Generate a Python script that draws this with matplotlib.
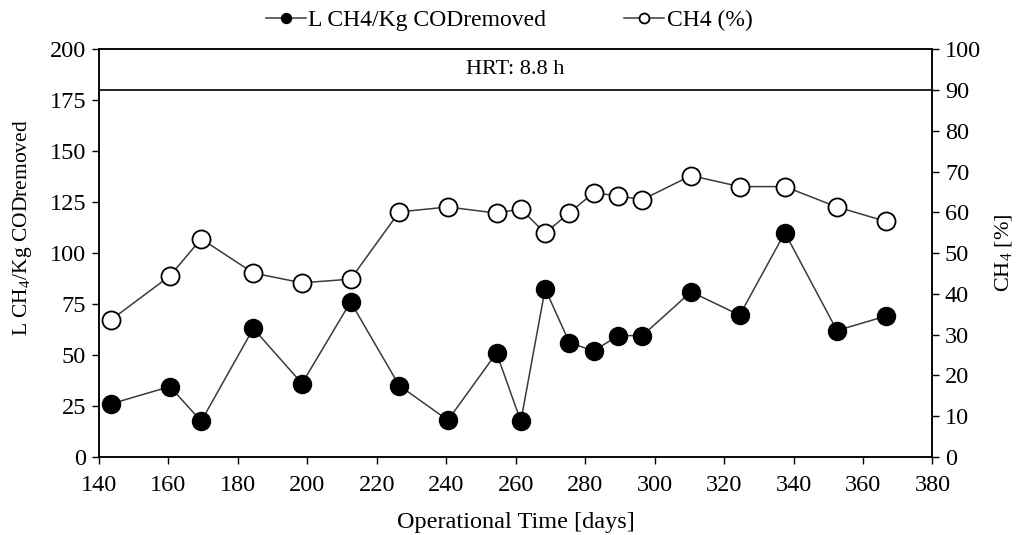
import matplotlib
matplotlib.use("Agg")
import matplotlib.pyplot as plt

# operational day of each sample
days = [143.5, 160.5, 169.5, 184.5, 198.5, 212.5, 226.5, 240.5, 254.5, 261.5,
        268.5, 275.5, 282.5, 289.5, 296.5, 310.5, 324.5, 337.5, 352.5, 366.5]
# methane yield, L CH4 / Kg COD removed (left axis)
yield_ch4 = [26, 34.5, 17.5, 63, 36, 76, 35, 18, 51, 17.5,
             82.5, 56, 52, 59.5, 59.5, 81, 69.5, 110, 62, 69]
# methane content of biogas, % (right axis)
ch4_pct = [33.6, 44.4, 53.5, 45.1, 42.7, 43.6, 60.1, 61.3, 59.8, 60.8,
           54.9, 59.9, 64.8, 64.0, 63.1, 69.0, 66.3, 66.3, 61.3, 57.8]

plt.rcParams['font.family'] = ['Liberation Serif', 'DejaVu Serif']
plt.rcParams['mathtext.fontset'] = 'custom'
plt.rcParams['mathtext.rm'] = 'Liberation Serif'
plt.rcParams['mathtext.it'] = 'Liberation Serif:italic'
plt.rcParams['font.size'] = 16

line_col = '#3a3a3a'

fig, ax = plt.subplots(figsize=(10.18, 5.35), dpi=100)
fig.subplots_adjust(left=0.097, right=0.916, top=0.908, bottom=0.146)
ax2 = ax.twinx()

h1, = ax.plot(days, yield_ch4, '-o', color=line_col, lw=1.1, ms=13,
              mfc='black', mec='black', label='L CH4/Kg CODremoved', zorder=3)
h2, = ax2.plot(days, ch4_pct, '-o', color=line_col, lw=1.1, ms=13,
               mfc='white', mec='black', mew=1.3, label='CH4 (%)', zorder=3)

ax.set_xlim(140, 380)
ax.set_xticks(range(140, 381, 20))
ax.set_ylim(0, 200)
ax.set_yticks(range(0, 201, 25))
ax2.set_ylim(0, 100)
ax2.set_yticks(range(0, 101, 10))

# HRT band at the top
ax.axhline(180, color='black', lw=1.2)
ax.text(260, 190, 'HRT: 8.8 h', ha='center', va='center', fontsize=16)

ax.set_xlabel('Operational Time [days]', fontsize=17.5)
ax.xaxis.set_label_coords(0.5, -0.135)
ax.set_ylabel('L CH$_4$/Kg CODremoved', fontsize=15.5)
ax.yaxis.set_label_coords(-0.078, 0.562)
ax2.set_ylabel('CH$_4$ [%]', fontsize=16)
ax2.yaxis.set_label_coords(1.073, 0.5)

for a in (ax, ax2):
    a.tick_params(direction='out', length=5, width=1, labelsize=17.5, pad=4)
    for s in a.spines.values():
        s.set_linewidth(1.1)
ax.tick_params(axis='x', pad=8)

fig.legend(handles=[h1, h2], loc='center', bbox_to_anchor=(0.5, 0.962),
           ncol=2, frameon=False, fontsize=17, handlelength=1.7,
           handletextpad=0.1, columnspacing=3.3, markerscale=0.55)

fig.savefig('out.png', dpi=100)
